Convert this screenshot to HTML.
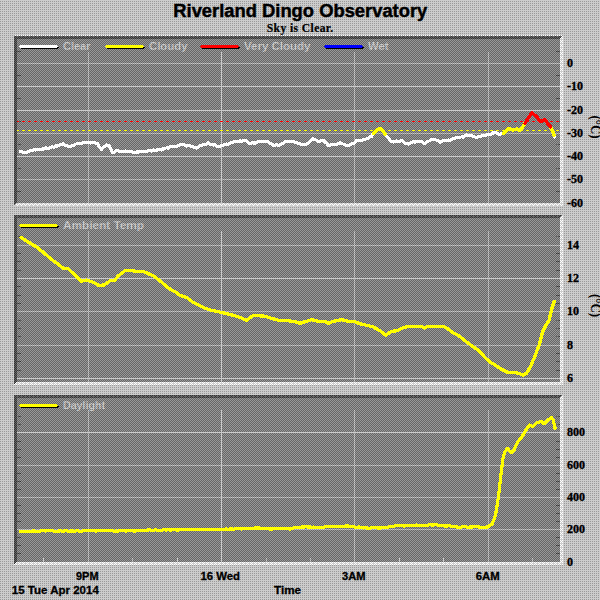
<!DOCTYPE html><html><head><meta charset="utf-8"><style>html,body{margin:0;padding:0;width:600px;height:600px;overflow:hidden;background:#c0c0c0}svg{display:block}</style></head><body>
<svg width="600" height="600" viewBox="0 0 600 600" shape-rendering="crispEdges">
<defs>
<pattern id="sv" width="2" height="2" patternUnits="userSpaceOnUse"><rect width="2" height="2" fill="#cccccc"/><rect x="0" y="1" width="1" height="1" fill="#999999"/></pattern>
<pattern id="gr" width="2" height="2" patternUnits="userSpaceOnUse"><rect width="2" height="2" fill="#666666"/><rect x="0" y="0" width="1" height="1" fill="#999999"/><rect x="1" y="1" width="1" height="1" fill="#999999"/></pattern>
<pattern id="sh" width="4" height="4" patternUnits="userSpaceOnUse"><rect width="4" height="4" fill="#666666"/><rect x="3" y="0" width="1" height="1" fill="#333333"/><rect x="0" y="1" width="1" height="1" fill="#333333"/><rect x="2" y="1" width="1" height="1" fill="#333333"/><rect x="1" y="2" width="1" height="1" fill="#333333"/><rect x="3" y="2" width="1" height="1" fill="#333333"/><rect x="0" y="3" width="1" height="1" fill="#333333"/><rect x="2" y="3" width="1" height="1" fill="#333333"/></pattern>
<pattern id="hl" width="4" height="4" patternUnits="userSpaceOnUse"><rect width="4" height="4" fill="#cccccc"/><rect x="0" y="0" width="1" height="1" fill="#ffffff"/><rect x="2" y="0" width="1" height="1" fill="#ffffff"/><rect x="1" y="1" width="1" height="1" fill="#ffffff"/><rect x="0" y="2" width="1" height="1" fill="#ffffff"/><rect x="2" y="2" width="1" height="1" fill="#ffffff"/><rect x="3" y="3" width="1" height="1" fill="#ffffff"/></pattern>
<pattern id="sh4" width="4" height="2" patternUnits="userSpaceOnUse"><rect width="4" height="2" fill="#666666"/><rect x="3" y="0" width="1" height="2" fill="#333333"/></pattern>
<pattern id="hl4a" width="4" height="2" patternUnits="userSpaceOnUse"><rect width="4" height="2" fill="#cccccc"/><rect x="3" y="0" width="1" height="2" fill="#ffffff"/></pattern>
<pattern id="hl4b" width="4" height="2" patternUnits="userSpaceOnUse"><rect width="4" height="2" fill="#cccccc"/><rect x="1" y="0" width="1" height="2" fill="#ffffff"/></pattern>
<pattern id="wodd" width="2" height="2" patternUnits="userSpaceOnUse"><rect width="2" height="2" fill="#999999"/><rect x="1" y="0" width="1" height="2" fill="#ffffff"/></pattern>
</defs>
<rect width="600" height="600" fill="url(#sv)"/>
<rect x="15" y="35" width="548" height="1" fill="url(#wodd)"/>
<text x="300.3" y="17" text-anchor="middle" font-family="Liberation Sans" font-weight="bold" font-size="18" textLength="254" lengthAdjust="spacingAndGlyphs" fill="#000" stroke="#000" stroke-width="0.45">Riverland Dingo Observatory</text>
<text x="300" y="32" text-anchor="middle" font-family="Liberation Serif" font-weight="bold" font-size="11.6" textLength="66.5" lengthAdjust="spacing" fill="#000" stroke="#000" stroke-width="0.2">Sky is Clear.</text>
<rect x="14" y="36" width="549" height="170" fill="url(#hl)"/>
<rect x="14" y="36" width="548" height="1" fill="url(#sh)"/>
<rect x="14" y="36" width="1" height="169" fill="url(#sh)"/>
<rect x="14" y="37" width="547" height="1" fill="url(#sh)"/>
<rect x="15" y="36" width="1" height="168" fill="url(#sh)"/>
<rect x="14" y="38" width="546" height="1" fill="url(#sh)"/>
<rect x="16" y="36" width="1" height="167" fill="url(#sh)"/>
<rect x="17" y="39" width="543" height="164" fill="url(#gr)"/>
<rect x="14" y="215" width="549" height="170" fill="url(#hl)"/>
<rect x="14" y="215" width="548" height="1" fill="url(#sh)"/>
<rect x="14" y="215" width="1" height="169" fill="url(#sh)"/>
<rect x="14" y="216" width="547" height="1" fill="url(#sh)"/>
<rect x="15" y="215" width="1" height="168" fill="url(#sh)"/>
<rect x="14" y="217" width="546" height="1" fill="url(#sh)"/>
<rect x="16" y="215" width="1" height="167" fill="url(#sh)"/>
<rect x="17" y="218" width="543" height="164" fill="url(#gr)"/>
<rect x="14" y="395" width="549" height="170" fill="url(#hl)"/>
<rect x="14" y="395" width="548" height="1" fill="url(#sh)"/>
<rect x="14" y="395" width="1" height="169" fill="url(#sh)"/>
<rect x="14" y="396" width="547" height="1" fill="url(#sh)"/>
<rect x="15" y="395" width="1" height="168" fill="url(#sh)"/>
<rect x="14" y="397" width="546" height="1" fill="url(#sh)"/>
<rect x="16" y="395" width="1" height="167" fill="url(#sh)"/>
<rect x="17" y="398" width="543" height="164" fill="url(#gr)"/>
<rect x="17" y="63" width="543" height="1" fill="url(#sv)"/>
<rect x="17" y="86" width="543" height="1" fill="url(#sv)"/>
<rect x="17" y="110" width="543" height="1" fill="url(#sv)"/>
<rect x="17" y="133" width="543" height="1" fill="url(#sv)"/>
<rect x="17" y="156" width="543" height="1" fill="url(#sv)"/>
<rect x="17" y="179" width="543" height="1" fill="url(#sv)"/>
<rect x="17" y="51" width="4" height="1" fill="url(#sh)"/>
<rect x="556" y="51" width="4" height="1" fill="url(#sh)"/>
<rect x="17" y="75" width="4" height="1" fill="url(#sh)"/>
<rect x="556" y="75" width="4" height="1" fill="url(#sh)"/>
<rect x="17" y="98" width="4" height="1" fill="url(#sh)"/>
<rect x="556" y="98" width="4" height="1" fill="url(#sh)"/>
<rect x="17" y="121" width="4" height="1" fill="url(#sh)"/>
<rect x="556" y="121" width="4" height="1" fill="url(#sh)"/>
<rect x="17" y="144" width="4" height="1" fill="url(#sh)"/>
<rect x="556" y="144" width="4" height="1" fill="url(#sh)"/>
<rect x="17" y="168" width="4" height="1" fill="url(#sh)"/>
<rect x="556" y="168" width="4" height="1" fill="url(#sh)"/>
<rect x="17" y="191" width="4" height="1" fill="url(#sh)"/>
<rect x="556" y="191" width="4" height="1" fill="url(#sh)"/>
<rect x="88" y="52" width="1" height="151" fill="url(#sv)"/>
<rect x="221" y="52" width="1" height="151" fill="url(#sv)"/>
<rect x="354" y="52" width="1" height="151" fill="url(#sv)"/>
<rect x="488" y="52" width="1" height="151" fill="url(#sv)"/>
<rect x="17" y="245" width="543" height="1" fill="url(#sv)"/>
<rect x="17" y="278" width="543" height="1" fill="url(#sv)"/>
<rect x="17" y="311" width="543" height="1" fill="url(#sv)"/>
<rect x="17" y="345" width="543" height="1" fill="url(#sv)"/>
<rect x="17" y="378" width="543" height="1" fill="url(#sv)"/>
<rect x="17" y="236" width="4" height="1" fill="url(#sh)"/>
<rect x="556" y="236" width="4" height="1" fill="url(#sh)"/>
<rect x="17" y="253" width="4" height="1" fill="url(#sh)"/>
<rect x="556" y="253" width="4" height="1" fill="url(#sh)"/>
<rect x="17" y="261" width="4" height="1" fill="url(#sh)"/>
<rect x="556" y="261" width="4" height="1" fill="url(#sh)"/>
<rect x="17" y="270" width="4" height="1" fill="url(#sh)"/>
<rect x="556" y="270" width="4" height="1" fill="url(#sh)"/>
<rect x="17" y="286" width="4" height="1" fill="url(#sh)"/>
<rect x="556" y="286" width="4" height="1" fill="url(#sh)"/>
<rect x="17" y="295" width="4" height="1" fill="url(#sh)"/>
<rect x="556" y="295" width="4" height="1" fill="url(#sh)"/>
<rect x="17" y="303" width="4" height="1" fill="url(#sh)"/>
<rect x="556" y="303" width="4" height="1" fill="url(#sh)"/>
<rect x="17" y="320" width="4" height="1" fill="url(#sh)"/>
<rect x="556" y="320" width="4" height="1" fill="url(#sh)"/>
<rect x="17" y="328" width="4" height="1" fill="url(#sh)"/>
<rect x="556" y="328" width="4" height="1" fill="url(#sh)"/>
<rect x="17" y="336" width="4" height="1" fill="url(#sh)"/>
<rect x="556" y="336" width="4" height="1" fill="url(#sh)"/>
<rect x="17" y="353" width="4" height="1" fill="url(#sh)"/>
<rect x="556" y="353" width="4" height="1" fill="url(#sh)"/>
<rect x="17" y="361" width="4" height="1" fill="url(#sh)"/>
<rect x="556" y="361" width="4" height="1" fill="url(#sh)"/>
<rect x="17" y="370" width="4" height="1" fill="url(#sh)"/>
<rect x="556" y="370" width="4" height="1" fill="url(#sh)"/>
<rect x="88" y="231" width="1" height="151" fill="url(#sv)"/>
<rect x="221" y="231" width="1" height="151" fill="url(#sv)"/>
<rect x="354" y="231" width="1" height="151" fill="url(#sv)"/>
<rect x="488" y="231" width="1" height="151" fill="url(#sv)"/>
<rect x="17" y="432" width="543" height="1" fill="url(#sv)"/>
<rect x="17" y="465" width="543" height="1" fill="url(#sv)"/>
<rect x="17" y="497" width="543" height="1" fill="url(#sv)"/>
<rect x="17" y="529" width="543" height="1" fill="url(#sv)"/>
<rect x="17" y="416" width="4" height="1" fill="url(#sh)"/>
<rect x="556" y="416" width="4" height="1" fill="url(#sh)"/>
<rect x="17" y="424" width="4" height="1" fill="url(#sh)"/>
<rect x="556" y="424" width="4" height="1" fill="url(#sh)"/>
<rect x="17" y="441" width="4" height="1" fill="url(#sh)"/>
<rect x="556" y="441" width="4" height="1" fill="url(#sh)"/>
<rect x="17" y="449" width="4" height="1" fill="url(#sh)"/>
<rect x="556" y="449" width="4" height="1" fill="url(#sh)"/>
<rect x="17" y="457" width="4" height="1" fill="url(#sh)"/>
<rect x="556" y="457" width="4" height="1" fill="url(#sh)"/>
<rect x="17" y="473" width="4" height="1" fill="url(#sh)"/>
<rect x="556" y="473" width="4" height="1" fill="url(#sh)"/>
<rect x="17" y="481" width="4" height="1" fill="url(#sh)"/>
<rect x="556" y="481" width="4" height="1" fill="url(#sh)"/>
<rect x="17" y="489" width="4" height="1" fill="url(#sh)"/>
<rect x="556" y="489" width="4" height="1" fill="url(#sh)"/>
<rect x="17" y="505" width="4" height="1" fill="url(#sh)"/>
<rect x="556" y="505" width="4" height="1" fill="url(#sh)"/>
<rect x="17" y="513" width="4" height="1" fill="url(#sh)"/>
<rect x="556" y="513" width="4" height="1" fill="url(#sh)"/>
<rect x="17" y="521" width="4" height="1" fill="url(#sh)"/>
<rect x="556" y="521" width="4" height="1" fill="url(#sh)"/>
<rect x="17" y="537" width="4" height="1" fill="url(#sh)"/>
<rect x="556" y="537" width="4" height="1" fill="url(#sh)"/>
<rect x="17" y="545" width="4" height="1" fill="url(#sh)"/>
<rect x="556" y="545" width="4" height="1" fill="url(#sh)"/>
<rect x="17" y="553" width="4" height="1" fill="url(#sh)"/>
<rect x="556" y="553" width="4" height="1" fill="url(#sh)"/>
<rect x="88" y="410" width="1" height="152" fill="url(#sv)"/>
<rect x="221" y="410" width="1" height="152" fill="url(#sv)"/>
<rect x="354" y="410" width="1" height="152" fill="url(#sv)"/>
<rect x="488" y="410" width="1" height="152" fill="url(#sv)"/>
<rect x="43" y="558" width="1" height="4" fill="url(#sv)"/>
<rect x="132" y="558" width="1" height="4" fill="url(#sv)"/>
<rect x="177" y="558" width="1" height="4" fill="url(#sv)"/>
<rect x="266" y="558" width="1" height="4" fill="url(#sv)"/>
<rect x="310" y="558" width="1" height="4" fill="url(#sv)"/>
<rect x="399" y="558" width="1" height="4" fill="url(#sv)"/>
<rect x="443" y="558" width="1" height="4" fill="url(#sv)"/>
<rect x="532" y="558" width="1" height="4" fill="url(#sv)"/>
<rect x="17" y="121" width="2" height="1" fill="#ff0000"/>
<rect x="17" y="130" width="2" height="1" fill="#ffff00"/>
<rect x="22" y="121" width="3" height="1" fill="#ff0000"/>
<rect x="22" y="130" width="3" height="1" fill="#ffff00"/>
<rect x="28" y="121" width="3" height="1" fill="#ff0000"/>
<rect x="28" y="130" width="3" height="1" fill="#ffff00"/>
<rect x="34" y="121" width="3" height="1" fill="#ff0000"/>
<rect x="34" y="130" width="3" height="1" fill="#ffff00"/>
<rect x="40" y="121" width="3" height="1" fill="#ff0000"/>
<rect x="40" y="130" width="3" height="1" fill="#ffff00"/>
<rect x="46" y="121" width="3" height="1" fill="#ff0000"/>
<rect x="46" y="130" width="3" height="1" fill="#ffff00"/>
<rect x="52" y="121" width="3" height="1" fill="#ff0000"/>
<rect x="52" y="130" width="3" height="1" fill="#ffff00"/>
<rect x="58" y="121" width="3" height="1" fill="#ff0000"/>
<rect x="58" y="130" width="3" height="1" fill="#ffff00"/>
<rect x="64" y="121" width="3" height="1" fill="#ff0000"/>
<rect x="64" y="130" width="3" height="1" fill="#ffff00"/>
<rect x="70" y="121" width="3" height="1" fill="#ff0000"/>
<rect x="70" y="130" width="3" height="1" fill="#ffff00"/>
<rect x="76" y="121" width="3" height="1" fill="#ff0000"/>
<rect x="76" y="130" width="3" height="1" fill="#ffff00"/>
<rect x="82" y="121" width="3" height="1" fill="#ff0000"/>
<rect x="82" y="130" width="3" height="1" fill="#ffff00"/>
<rect x="88" y="121" width="3" height="1" fill="#ff0000"/>
<rect x="88" y="130" width="3" height="1" fill="#ffff00"/>
<rect x="94" y="121" width="3" height="1" fill="#ff0000"/>
<rect x="94" y="130" width="3" height="1" fill="#ffff00"/>
<rect x="100" y="121" width="3" height="1" fill="#ff0000"/>
<rect x="100" y="130" width="3" height="1" fill="#ffff00"/>
<rect x="106" y="121" width="3" height="1" fill="#ff0000"/>
<rect x="106" y="130" width="3" height="1" fill="#ffff00"/>
<rect x="112" y="121" width="3" height="1" fill="#ff0000"/>
<rect x="112" y="130" width="3" height="1" fill="#ffff00"/>
<rect x="118" y="121" width="3" height="1" fill="#ff0000"/>
<rect x="118" y="130" width="3" height="1" fill="#ffff00"/>
<rect x="124" y="121" width="3" height="1" fill="#ff0000"/>
<rect x="124" y="130" width="3" height="1" fill="#ffff00"/>
<rect x="130" y="121" width="3" height="1" fill="#ff0000"/>
<rect x="130" y="130" width="3" height="1" fill="#ffff00"/>
<rect x="136" y="121" width="3" height="1" fill="#ff0000"/>
<rect x="136" y="130" width="3" height="1" fill="#ffff00"/>
<rect x="142" y="121" width="3" height="1" fill="#ff0000"/>
<rect x="142" y="130" width="3" height="1" fill="#ffff00"/>
<rect x="148" y="121" width="3" height="1" fill="#ff0000"/>
<rect x="148" y="130" width="3" height="1" fill="#ffff00"/>
<rect x="154" y="121" width="3" height="1" fill="#ff0000"/>
<rect x="154" y="130" width="3" height="1" fill="#ffff00"/>
<rect x="160" y="121" width="3" height="1" fill="#ff0000"/>
<rect x="160" y="130" width="3" height="1" fill="#ffff00"/>
<rect x="166" y="121" width="3" height="1" fill="#ff0000"/>
<rect x="166" y="130" width="3" height="1" fill="#ffff00"/>
<rect x="172" y="121" width="3" height="1" fill="#ff0000"/>
<rect x="172" y="130" width="3" height="1" fill="#ffff00"/>
<rect x="178" y="121" width="3" height="1" fill="#ff0000"/>
<rect x="178" y="130" width="3" height="1" fill="#ffff00"/>
<rect x="184" y="121" width="3" height="1" fill="#ff0000"/>
<rect x="184" y="130" width="3" height="1" fill="#ffff00"/>
<rect x="190" y="121" width="3" height="1" fill="#ff0000"/>
<rect x="190" y="130" width="3" height="1" fill="#ffff00"/>
<rect x="196" y="121" width="3" height="1" fill="#ff0000"/>
<rect x="196" y="130" width="3" height="1" fill="#ffff00"/>
<rect x="202" y="121" width="3" height="1" fill="#ff0000"/>
<rect x="202" y="130" width="3" height="1" fill="#ffff00"/>
<rect x="208" y="121" width="3" height="1" fill="#ff0000"/>
<rect x="208" y="130" width="3" height="1" fill="#ffff00"/>
<rect x="214" y="121" width="3" height="1" fill="#ff0000"/>
<rect x="214" y="130" width="3" height="1" fill="#ffff00"/>
<rect x="220" y="121" width="3" height="1" fill="#ff0000"/>
<rect x="220" y="130" width="3" height="1" fill="#ffff00"/>
<rect x="226" y="121" width="3" height="1" fill="#ff0000"/>
<rect x="226" y="130" width="3" height="1" fill="#ffff00"/>
<rect x="232" y="121" width="3" height="1" fill="#ff0000"/>
<rect x="232" y="130" width="3" height="1" fill="#ffff00"/>
<rect x="238" y="121" width="3" height="1" fill="#ff0000"/>
<rect x="238" y="130" width="3" height="1" fill="#ffff00"/>
<rect x="244" y="121" width="3" height="1" fill="#ff0000"/>
<rect x="244" y="130" width="3" height="1" fill="#ffff00"/>
<rect x="250" y="121" width="3" height="1" fill="#ff0000"/>
<rect x="250" y="130" width="3" height="1" fill="#ffff00"/>
<rect x="256" y="121" width="3" height="1" fill="#ff0000"/>
<rect x="256" y="130" width="3" height="1" fill="#ffff00"/>
<rect x="262" y="121" width="3" height="1" fill="#ff0000"/>
<rect x="262" y="130" width="3" height="1" fill="#ffff00"/>
<rect x="268" y="121" width="3" height="1" fill="#ff0000"/>
<rect x="268" y="130" width="3" height="1" fill="#ffff00"/>
<rect x="274" y="121" width="3" height="1" fill="#ff0000"/>
<rect x="274" y="130" width="3" height="1" fill="#ffff00"/>
<rect x="280" y="121" width="3" height="1" fill="#ff0000"/>
<rect x="280" y="130" width="3" height="1" fill="#ffff00"/>
<rect x="286" y="121" width="3" height="1" fill="#ff0000"/>
<rect x="286" y="130" width="3" height="1" fill="#ffff00"/>
<rect x="292" y="121" width="3" height="1" fill="#ff0000"/>
<rect x="292" y="130" width="3" height="1" fill="#ffff00"/>
<rect x="298" y="121" width="3" height="1" fill="#ff0000"/>
<rect x="298" y="130" width="3" height="1" fill="#ffff00"/>
<rect x="304" y="121" width="3" height="1" fill="#ff0000"/>
<rect x="304" y="130" width="3" height="1" fill="#ffff00"/>
<rect x="310" y="121" width="3" height="1" fill="#ff0000"/>
<rect x="310" y="130" width="3" height="1" fill="#ffff00"/>
<rect x="316" y="121" width="3" height="1" fill="#ff0000"/>
<rect x="316" y="130" width="3" height="1" fill="#ffff00"/>
<rect x="322" y="121" width="3" height="1" fill="#ff0000"/>
<rect x="322" y="130" width="3" height="1" fill="#ffff00"/>
<rect x="328" y="121" width="3" height="1" fill="#ff0000"/>
<rect x="328" y="130" width="3" height="1" fill="#ffff00"/>
<rect x="334" y="121" width="3" height="1" fill="#ff0000"/>
<rect x="334" y="130" width="3" height="1" fill="#ffff00"/>
<rect x="340" y="121" width="3" height="1" fill="#ff0000"/>
<rect x="340" y="130" width="3" height="1" fill="#ffff00"/>
<rect x="346" y="121" width="3" height="1" fill="#ff0000"/>
<rect x="346" y="130" width="3" height="1" fill="#ffff00"/>
<rect x="352" y="121" width="3" height="1" fill="#ff0000"/>
<rect x="352" y="130" width="3" height="1" fill="#ffff00"/>
<rect x="358" y="121" width="3" height="1" fill="#ff0000"/>
<rect x="358" y="130" width="3" height="1" fill="#ffff00"/>
<rect x="364" y="121" width="3" height="1" fill="#ff0000"/>
<rect x="364" y="130" width="3" height="1" fill="#ffff00"/>
<rect x="370" y="121" width="3" height="1" fill="#ff0000"/>
<rect x="370" y="130" width="3" height="1" fill="#ffff00"/>
<rect x="376" y="121" width="3" height="1" fill="#ff0000"/>
<rect x="376" y="130" width="3" height="1" fill="#ffff00"/>
<rect x="382" y="121" width="3" height="1" fill="#ff0000"/>
<rect x="382" y="130" width="3" height="1" fill="#ffff00"/>
<rect x="388" y="121" width="3" height="1" fill="#ff0000"/>
<rect x="388" y="130" width="3" height="1" fill="#ffff00"/>
<rect x="394" y="121" width="3" height="1" fill="#ff0000"/>
<rect x="394" y="130" width="3" height="1" fill="#ffff00"/>
<rect x="400" y="121" width="3" height="1" fill="#ff0000"/>
<rect x="400" y="130" width="3" height="1" fill="#ffff00"/>
<rect x="406" y="121" width="3" height="1" fill="#ff0000"/>
<rect x="406" y="130" width="3" height="1" fill="#ffff00"/>
<rect x="412" y="121" width="3" height="1" fill="#ff0000"/>
<rect x="412" y="130" width="3" height="1" fill="#ffff00"/>
<rect x="418" y="121" width="3" height="1" fill="#ff0000"/>
<rect x="418" y="130" width="3" height="1" fill="#ffff00"/>
<rect x="424" y="121" width="3" height="1" fill="#ff0000"/>
<rect x="424" y="130" width="3" height="1" fill="#ffff00"/>
<rect x="430" y="121" width="3" height="1" fill="#ff0000"/>
<rect x="430" y="130" width="3" height="1" fill="#ffff00"/>
<rect x="436" y="121" width="3" height="1" fill="#ff0000"/>
<rect x="436" y="130" width="3" height="1" fill="#ffff00"/>
<rect x="442" y="121" width="3" height="1" fill="#ff0000"/>
<rect x="442" y="130" width="3" height="1" fill="#ffff00"/>
<rect x="448" y="121" width="3" height="1" fill="#ff0000"/>
<rect x="448" y="130" width="3" height="1" fill="#ffff00"/>
<rect x="454" y="121" width="3" height="1" fill="#ff0000"/>
<rect x="454" y="130" width="3" height="1" fill="#ffff00"/>
<rect x="460" y="121" width="3" height="1" fill="#ff0000"/>
<rect x="460" y="130" width="3" height="1" fill="#ffff00"/>
<rect x="466" y="121" width="3" height="1" fill="#ff0000"/>
<rect x="466" y="130" width="3" height="1" fill="#ffff00"/>
<rect x="472" y="121" width="3" height="1" fill="#ff0000"/>
<rect x="472" y="130" width="3" height="1" fill="#ffff00"/>
<rect x="478" y="121" width="3" height="1" fill="#ff0000"/>
<rect x="478" y="130" width="3" height="1" fill="#ffff00"/>
<rect x="484" y="121" width="3" height="1" fill="#ff0000"/>
<rect x="484" y="130" width="3" height="1" fill="#ffff00"/>
<rect x="490" y="121" width="3" height="1" fill="#ff0000"/>
<rect x="490" y="130" width="3" height="1" fill="#ffff00"/>
<rect x="496" y="121" width="3" height="1" fill="#ff0000"/>
<rect x="496" y="130" width="3" height="1" fill="#ffff00"/>
<rect x="502" y="121" width="3" height="1" fill="#ff0000"/>
<rect x="502" y="130" width="3" height="1" fill="#ffff00"/>
<rect x="508" y="121" width="3" height="1" fill="#ff0000"/>
<rect x="508" y="130" width="3" height="1" fill="#ffff00"/>
<rect x="514" y="121" width="3" height="1" fill="#ff0000"/>
<rect x="514" y="130" width="3" height="1" fill="#ffff00"/>
<rect x="520" y="121" width="3" height="1" fill="#ff0000"/>
<rect x="520" y="130" width="3" height="1" fill="#ffff00"/>
<rect x="526" y="121" width="3" height="1" fill="#ff0000"/>
<rect x="526" y="130" width="3" height="1" fill="#ffff00"/>
<rect x="532" y="121" width="3" height="1" fill="#ff0000"/>
<rect x="532" y="130" width="3" height="1" fill="#ffff00"/>
<rect x="538" y="121" width="3" height="1" fill="#ff0000"/>
<rect x="538" y="130" width="3" height="1" fill="#ffff00"/>
<rect x="544" y="121" width="3" height="1" fill="#ff0000"/>
<rect x="544" y="130" width="3" height="1" fill="#ffff00"/>
<rect x="550" y="121" width="3" height="1" fill="#ff0000"/>
<rect x="550" y="130" width="3" height="1" fill="#ffff00"/>
<rect x="556" y="121" width="3" height="1" fill="#ff0000"/>
<rect x="556" y="130" width="3" height="1" fill="#ffff00"/>
<polyline points="20.70,151.45 22.37,151.64 24.03,152.78 25.70,152.40 27.37,152.32 29.03,151.35 30.70,150.18 32.36,150.59 34.02,149.71 35.68,150.05 37.34,149.32 39.00,149.13 40.66,149.25 42.32,149.48 43.98,148.15 45.64,147.95 47.30,148.18 48.98,148.29 50.66,147.43 52.34,146.84 54.02,147.31 55.70,145.67 57.20,146.38 58.70,145.17 60.20,144.54 61.70,144.08 63.20,143.93 65.13,145.48 67.07,145.42 69.00,146.81 70.67,146.39 72.35,145.52 74.03,145.27 75.70,144.09 77.35,143.66 79.00,143.44 80.65,143.68 82.30,142.90 83.97,142.66 85.63,142.95 87.30,142.68 88.97,142.39 90.63,143.00 92.30,142.78 93.97,142.41 95.63,143.14 97.30,143.34 99.40,146.78 101.50,149.52 103.15,147.20 104.80,146.47 106.50,145.02 108.20,145.19 110.00,147.06 112.50,152.81 114.60,152.03 116.70,150.15 118.37,151.12 120.03,151.34 121.70,151.15 123.37,151.66 125.03,150.96 126.70,151.57 128.37,151.55 130.03,151.65 131.70,151.59 133.37,152.24 135.03,152.51 136.70,151.96 138.35,152.05 140.00,151.03 141.65,151.76 143.30,151.51 144.98,151.89 146.66,151.55 148.34,150.70 150.02,150.74 151.70,151.04 153.36,150.03 155.02,150.55 156.68,150.04 158.34,149.86 160.00,149.68 161.68,150.10 163.35,148.63 165.02,148.22 166.70,147.85 168.37,148.09 170.03,146.55 171.70,146.63 173.37,146.47 175.03,146.64 176.70,146.25 178.37,145.78 180.03,144.42 181.70,144.08 183.35,144.40 185.00,145.54 186.65,146.04 188.30,145.31 189.98,145.79 191.66,146.30 193.34,146.75 195.02,147.54 196.70,148.12 198.35,146.92 200.00,145.81 201.65,145.64 203.30,144.82 204.97,144.26 206.63,143.97 208.30,142.77 210.00,144.22 211.66,144.68 213.32,145.09 214.98,144.54 216.64,146.04 218.30,146.19 219.98,146.12 221.65,145.82 223.32,145.05 225.00,144.86 226.67,144.01 228.33,144.32 230.00,143.09 231.67,142.43 233.33,141.96 235.00,141.23 236.68,141.48 238.35,141.07 240.02,141.00 241.70,141.21 243.35,140.69 245.00,140.61 246.67,140.97 248.33,142.99 250.00,143.46 251.67,142.81 253.33,142.95 255.00,143.09 256.68,142.48 258.35,141.52 260.02,141.91 261.70,141.49 263.35,141.18 265.00,141.63 266.65,141.50 268.30,141.94 269.98,143.10 271.65,143.82 273.32,145.44 275.00,145.33 276.68,144.73 278.35,145.63 280.02,144.64 281.70,143.71 283.35,143.41 285.00,141.84 286.65,141.69 288.30,141.47 289.98,141.73 291.65,141.92 293.32,141.74 295.00,142.31 296.68,142.46 298.35,143.73 300.02,143.82 301.70,144.59 303.35,144.36 305.00,144.61 306.66,144.10 308.32,143.00 309.98,141.47 311.64,140.07 313.30,138.75 314.97,139.77 316.63,140.18 318.30,141.72 319.97,141.20 321.63,140.44 323.30,140.14 324.97,141.89 326.63,143.26 328.30,145.27 329.97,145.37 331.63,144.39 333.30,144.81 334.98,144.66 336.65,144.39 338.32,143.34 340.00,142.91 341.68,143.54 343.35,144.13 345.02,144.76 346.70,145.97 348.35,145.74 350.00,145.03 351.65,143.90 353.30,143.51 354.97,142.62 356.63,140.52 358.30,140.22 359.98,140.41 361.66,140.08 363.34,139.87 365.02,139.33 366.70,138.75 368.37,138.47 370.03,136.70 371.70,136.22 373.30,133.50" fill="none" stroke="#ffffff" stroke-width="3.1" stroke-linejoin="round" stroke-linecap="round"/>
<polyline points="554.20,135.30 554.50,136.80" fill="none" stroke="#ffffff" stroke-width="3.4" stroke-linejoin="round" stroke-linecap="round"/>
<polyline points="385.00,134.66 386.67,135.85 388.33,137.86 390.00,140.63 391.65,141.56 393.30,142.04 395.00,141.18 396.68,140.99 398.35,141.82 400.02,141.45 401.70,140.30 403.35,142.11 405.00,143.17 406.65,143.57 408.30,143.99 409.98,143.64 411.65,142.43 413.32,141.64 415.00,142.36 416.67,141.61 418.33,141.14 420.00,141.41 421.67,141.54 423.33,142.99 425.00,143.76 426.66,142.08 428.32,141.31 429.98,140.55 431.64,139.66 433.30,139.32 434.98,139.49 436.65,140.34 438.32,140.56 440.00,142.27 441.66,141.16 443.32,140.96 444.98,140.80 446.64,140.91 448.30,139.89 449.98,140.16 451.65,139.15 453.32,138.77 455.00,138.33 456.68,137.43 458.35,137.82 460.02,137.26 461.70,136.81 463.37,137.09 465.03,135.37 466.70,134.96 468.37,135.58 470.03,135.61 471.70,135.56 473.37,136.39 475.03,137.01 476.70,137.90 478.35,136.52 480.00,136.73 481.65,135.87 483.30,135.49 484.98,135.78 486.65,135.01 488.32,134.69 490.00,134.56 491.57,134.18 493.13,132.92 494.70,132.56 496.23,133.01 497.77,133.62 499.30,134.47 501.40,133.63 503.50,133.20" fill="none" stroke="#ffffff" stroke-width="3.1" stroke-linejoin="round" stroke-linecap="round"/>
<polyline points="373.30,133.50 378.30,129.20 380.80,128.30 383.30,131.70 385.00,134.00" fill="none" stroke="#ffff00" stroke-width="3.4" stroke-linejoin="round" stroke-linecap="round"/>
<polyline points="503.50,133.20 508.70,128.30 513.30,130.10 516.80,128.90 519.80,130.70 522.70,127.20 525.00,123.20" fill="none" stroke="#ffff00" stroke-width="3.4" stroke-linejoin="round" stroke-linecap="round"/>
<polyline points="550.40,126.80 553.00,131.80 554.20,135.30" fill="none" stroke="#ffff00" stroke-width="3.4" stroke-linejoin="round" stroke-linecap="round"/>
<polyline points="525.00,123.20 528.50,117.80 532.00,112.60 536.70,117.00 540.80,121.80 544.80,119.30 548.30,124.30 550.40,126.80" fill="none" stroke="#ff0000" stroke-width="3.4" stroke-linejoin="round" stroke-linecap="round"/>
<polyline points="21.00,237.50 29.00,242.50 36.50,247.00 44.00,253.00 51.50,259.50 57.75,263.75 62.75,268.00 67.75,268.50 72.75,273.00 77.75,278.00 81.50,281.25 86.50,280.00 92.75,282.00 99.00,285.50 104.00,285.00 110.00,280.80 115.00,280.00 118.30,275.80 125.00,270.80 131.70,270.30 136.70,271.70 143.30,271.30 148.30,273.70 153.30,275.80 160.00,280.80 166.70,286.70 171.70,290.30 175.00,291.70 180.00,295.30 186.70,297.50 193.30,302.50 200.00,305.80 205.00,308.30 211.70,310.30 218.30,311.70 225.00,313.30 233.30,315.30 240.00,317.50 246.70,320.30 253.30,315.30 260.00,315.80 265.00,316.30 271.70,318.30 278.30,320.30 288.30,320.80 295.00,321.70 300.00,323.30 305.00,321.70 311.70,319.70 318.30,321.30 325.00,321.30 328.30,323.30 333.30,321.30 341.70,319.70 348.30,321.30 353.30,321.30 360.00,323.70 366.70,325.30 373.30,327.00 380.00,330.80 385.80,335.30 391.70,331.30 396.70,330.80 401.70,328.30 408.30,326.30 421.70,326.30 424.20,328.00 428.30,326.30 443.30,326.30 448.30,329.20 453.30,333.00 458.30,335.30 465.00,340.80 471.70,345.80 478.30,350.00 485.00,357.50 490.00,362.00 496.00,365.70 502.00,369.50 508.00,372.50 512.50,372.20 518.50,373.20 523.00,375.20 526.70,373.20 530.50,366.50 535.00,356.00 539.50,344.00 542.50,332.00 545.50,326.00 549.20,320.00 551.50,309.50 554.20,301.20" fill="none" stroke="#ffff00" stroke-width="3.3" stroke-linejoin="round" stroke-linecap="round"/>
<polyline points="20.50,531.23 22.61,531.17 24.71,531.57 26.82,531.34 28.93,531.48 31.04,531.53 33.14,530.90 35.25,531.15 37.36,531.48 39.46,531.38 41.57,530.73 43.68,530.70 45.79,530.98 47.89,530.63 50.00,530.77 52.00,530.61 54.00,531.14 56.00,531.23 58.00,531.33 60.00,530.65 62.00,531.15 64.00,531.09 66.00,530.61 68.00,531.27 70.00,531.34 72.00,530.66 74.00,531.31 76.00,530.80 78.00,530.88 80.00,531.32 82.00,531.17 84.00,530.56 86.00,530.79 88.00,530.86 90.00,530.70 92.00,530.56 94.00,530.66 96.00,531.02 98.00,530.38 100.00,530.85 102.00,530.75 104.00,530.37 106.00,530.65 108.00,530.91 110.00,530.81 112.00,530.41 114.00,531.24 116.00,531.06 118.00,531.22 120.00,530.44 122.00,530.59 124.00,530.39 126.00,531.05 128.00,530.59 130.00,530.47 132.00,530.68 134.00,531.06 136.00,530.93 138.00,530.37 140.00,530.22 142.00,530.86 144.00,530.49 146.00,530.55 148.00,529.95 150.00,529.87 152.00,530.38 154.00,530.09 156.00,529.72 158.00,530.45 160.00,530.12 162.00,530.25 164.00,529.58 166.00,530.25 168.00,529.51 170.00,530.20 172.00,529.81 174.00,529.68 176.00,529.85 178.00,530.16 180.00,529.54 182.00,529.39 184.00,529.72 186.00,529.44 188.00,529.30 190.00,529.32 192.00,529.20 194.00,529.31 196.00,529.38 198.00,529.35 200.00,529.73 202.00,529.31 204.00,529.50 206.00,529.21 208.00,529.36 210.00,529.07 212.00,529.28 214.00,529.06 216.00,529.71 218.00,529.55 220.00,529.22 222.00,529.39 224.00,529.72 226.00,528.89 228.00,529.44 230.00,529.01 232.00,528.98 234.00,529.19 236.00,528.71 238.00,528.73 240.00,528.80 242.00,528.98 244.00,528.32 246.00,528.67 248.00,528.47 250.00,528.32 252.00,528.16 254.00,528.16 256.00,527.95 258.00,528.07 260.00,528.06 262.00,528.72 264.00,528.33 266.00,528.30 268.00,528.28 270.00,529.01 272.00,529.03 274.00,528.85 276.00,528.50 278.00,528.47 280.00,528.51 282.00,528.66 284.00,528.39 286.00,528.65 288.00,528.49 290.00,529.12 292.50,528.53 295.00,527.54 297.14,527.20 299.29,527.78 301.43,527.11 303.57,527.09 305.71,526.69 307.86,526.96 310.00,526.98 312.00,527.16 314.00,527.05 316.00,527.48 318.00,527.19 320.00,527.59 322.00,527.17 324.00,527.19 326.00,526.61 328.00,526.33 330.00,526.32 332.00,526.21 334.00,526.48 336.00,526.38 338.00,526.53 340.00,526.39 342.00,526.39 344.00,526.49 346.00,526.00 348.00,525.89 350.00,526.44 352.50,526.18 355.00,527.20 357.14,527.27 359.29,526.88 361.43,527.73 363.57,527.92 365.71,527.83 367.86,528.07 370.00,528.28 372.14,527.60 374.29,527.88 376.43,527.79 378.57,528.02 380.71,527.92 382.86,527.87 385.00,527.58 387.50,527.35 390.00,526.66 392.00,526.57 394.00,526.06 396.00,525.78 398.00,525.77 400.00,525.87 402.00,525.54 404.00,526.10 406.00,525.75 408.00,525.71 410.00,525.61 412.14,525.66 414.29,525.49 416.43,525.05 418.57,525.77 420.71,525.72 422.86,525.50 425.00,525.53 427.50,525.29 430.00,524.41 432.00,525.13 434.00,524.82 436.00,524.78 438.00,525.07 440.00,525.61 442.00,525.25 444.00,525.86 446.00,526.19 448.00,525.87 450.00,525.89 452.00,526.22 454.00,526.65 456.00,526.96 458.00,527.07 460.00,527.33 462.00,526.80 464.00,526.84 466.00,526.92 468.00,527.34 470.00,526.92 472.00,527.14 474.00,526.62 476.00,526.64 478.00,526.81 480.00,527.15 482.33,527.24 484.67,527.29 487.00,527.01 489.50,525.76 492.00,524.30 494.60,518.30 496.00,512.00 498.30,498.00 501.00,474.20 502.80,459.50 504.70,452.20 507.40,448.50 511.10,452.60 513.90,450.40 517.50,442.10 522.10,436.60 525.80,430.20 529.40,425.00 533.10,426.50 536.80,422.80 541.40,421.40 544.10,423.80 547.80,420.10 551.50,417.70 553.30,420.10 555.10,428.30" fill="none" stroke="#ffff00" stroke-width="3.2" stroke-linejoin="round" stroke-linecap="round"/>
<rect x="21" y="46" width="37" height="3" fill="#000"/>
<rect x="20" y="47" width="39" height="1" fill="#000"/>
<rect x="20" y="45" width="37" height="3" fill="#ffffff"/>
<rect x="19" y="46" width="39" height="1" fill="#ffffff"/>
<text x="63" y="50" font-family="Liberation Sans" font-weight="bold" font-size="11" fill="url(#sv)" textLength="27.5" lengthAdjust="spacingAndGlyphs">Clear</text>
<rect x="107" y="46" width="37" height="3" fill="#000"/>
<rect x="106" y="47" width="39" height="1" fill="#000"/>
<rect x="106" y="45" width="37" height="3" fill="#ffff00"/>
<rect x="105" y="46" width="39" height="1" fill="#ffff00"/>
<text x="149" y="50" font-family="Liberation Sans" font-weight="bold" font-size="11" fill="url(#sv)" textLength="38.5" lengthAdjust="spacingAndGlyphs">Cloudy</text>
<rect x="202" y="46" width="37" height="3" fill="#000"/>
<rect x="201" y="47" width="39" height="1" fill="#000"/>
<rect x="201" y="45" width="37" height="3" fill="#ff0000"/>
<rect x="200" y="46" width="39" height="1" fill="#ff0000"/>
<text x="244" y="50" font-family="Liberation Sans" font-weight="bold" font-size="11" fill="url(#sv)" textLength="66.5" lengthAdjust="spacingAndGlyphs">Very Cloudy</text>
<rect x="326" y="46" width="37" height="3" fill="#000"/>
<rect x="325" y="47" width="39" height="1" fill="#000"/>
<rect x="325" y="45" width="37" height="3" fill="#0000ff"/>
<rect x="324" y="46" width="39" height="1" fill="#0000ff"/>
<text x="368" y="50" font-family="Liberation Sans" font-weight="bold" font-size="11" fill="url(#sv)" textLength="20.5" lengthAdjust="spacingAndGlyphs">Wet</text>
<rect x="21" y="225" width="37" height="3" fill="#000"/>
<rect x="20" y="226" width="39" height="1" fill="#000"/>
<rect x="20" y="224" width="37" height="3" fill="#ffff00"/>
<rect x="19" y="225" width="39" height="1" fill="#ffff00"/>
<text x="63" y="229" font-family="Liberation Sans" font-weight="bold" font-size="11" fill="url(#sv)" textLength="81" lengthAdjust="spacingAndGlyphs">Ambient Temp</text>
<rect x="21" y="405" width="37" height="3" fill="#000"/>
<rect x="20" y="406" width="39" height="1" fill="#000"/>
<rect x="20" y="404" width="37" height="3" fill="#ffff00"/>
<rect x="19" y="405" width="39" height="1" fill="#ffff00"/>
<text x="63" y="409" font-family="Liberation Sans" font-weight="bold" font-size="11" fill="url(#sv)" textLength="42" lengthAdjust="spacingAndGlyphs">Daylight</text>
<text x="567" y="67.0" font-family="Liberation Serif" font-weight="bold" font-size="12" fill="#000" stroke="#000" stroke-width="0.35">0</text>
<text x="567" y="90.0" font-family="Liberation Serif" font-weight="bold" font-size="12" fill="#000" stroke="#000" stroke-width="0.35">-10</text>
<text x="567" y="114.0" font-family="Liberation Serif" font-weight="bold" font-size="12" fill="#000" stroke="#000" stroke-width="0.35">-20</text>
<text x="567" y="137.0" font-family="Liberation Serif" font-weight="bold" font-size="12" fill="#000" stroke="#000" stroke-width="0.35">-30</text>
<text x="567" y="160.0" font-family="Liberation Serif" font-weight="bold" font-size="12" fill="#000" stroke="#000" stroke-width="0.35">-40</text>
<text x="567" y="183.0" font-family="Liberation Serif" font-weight="bold" font-size="12" fill="#000" stroke="#000" stroke-width="0.35">-50</text>
<text x="567" y="207.0" font-family="Liberation Serif" font-weight="bold" font-size="12" fill="#000" stroke="#000" stroke-width="0.35">-60</text>
<text x="567" y="249.0" font-family="Liberation Serif" font-weight="bold" font-size="12" fill="#000" stroke="#000" stroke-width="0.35">14</text>
<text x="567" y="282.0" font-family="Liberation Serif" font-weight="bold" font-size="12" fill="#000" stroke="#000" stroke-width="0.35">12</text>
<text x="567" y="315.0" font-family="Liberation Serif" font-weight="bold" font-size="12" fill="#000" stroke="#000" stroke-width="0.35">10</text>
<text x="567" y="349.0" font-family="Liberation Serif" font-weight="bold" font-size="12" fill="#000" stroke="#000" stroke-width="0.35">8</text>
<text x="567" y="382.0" font-family="Liberation Serif" font-weight="bold" font-size="12" fill="#000" stroke="#000" stroke-width="0.35">6</text>
<text x="567" y="436.0" font-family="Liberation Serif" font-weight="bold" font-size="12" fill="#000" stroke="#000" stroke-width="0.35">800</text>
<text x="567" y="469.0" font-family="Liberation Serif" font-weight="bold" font-size="12" fill="#000" stroke="#000" stroke-width="0.35">600</text>
<text x="567" y="501.0" font-family="Liberation Serif" font-weight="bold" font-size="12" fill="#000" stroke="#000" stroke-width="0.35">400</text>
<text x="567" y="533.0" font-family="Liberation Serif" font-weight="bold" font-size="12" fill="#000" stroke="#000" stroke-width="0.35">200</text>
<text x="567" y="566.0" font-family="Liberation Serif" font-weight="bold" font-size="12" fill="#000" stroke="#000" stroke-width="0.35">0</text>
<text transform="translate(591,127) rotate(90)" text-anchor="middle" font-family="Liberation Serif" font-weight="bold" font-size="14" textLength="23" lengthAdjust="spacingAndGlyphs" fill="#000">(°C)</text>
<text transform="translate(591,305.5) rotate(90)" text-anchor="middle" font-family="Liberation Serif" font-weight="bold" font-size="14" textLength="23" lengthAdjust="spacingAndGlyphs" fill="#000">(°C)</text>
<text x="76" y="580" textLength="22.5" lengthAdjust="spacingAndGlyphs" font-family="Liberation Sans" font-weight="bold" font-size="11" fill="#000" stroke="#000" stroke-width="0.3">9PM</text>
<text x="200.5" y="580" textLength="39.5" lengthAdjust="spacingAndGlyphs" font-family="Liberation Sans" font-weight="bold" font-size="11" fill="#000" stroke="#000" stroke-width="0.3">16 Wed</text>
<text x="342" y="580" textLength="23.5" lengthAdjust="spacingAndGlyphs" font-family="Liberation Sans" font-weight="bold" font-size="11" fill="#000" stroke="#000" stroke-width="0.3">3AM</text>
<text x="475.8" y="580" textLength="24" lengthAdjust="spacingAndGlyphs" font-family="Liberation Sans" font-weight="bold" font-size="11" fill="#000" stroke="#000" stroke-width="0.3">6AM</text>
<text x="11.8" y="594" textLength="87" lengthAdjust="spacingAndGlyphs" font-family="Liberation Sans" font-weight="bold" font-size="11" fill="#000" stroke="#000" stroke-width="0.3">15 Tue Apr 2014</text>
<text x="274" y="594" textLength="27" lengthAdjust="spacingAndGlyphs" font-family="Liberation Sans" font-weight="bold" font-size="11" fill="#000" stroke="#000" stroke-width="0.3">Time</text>
</svg></body></html>
